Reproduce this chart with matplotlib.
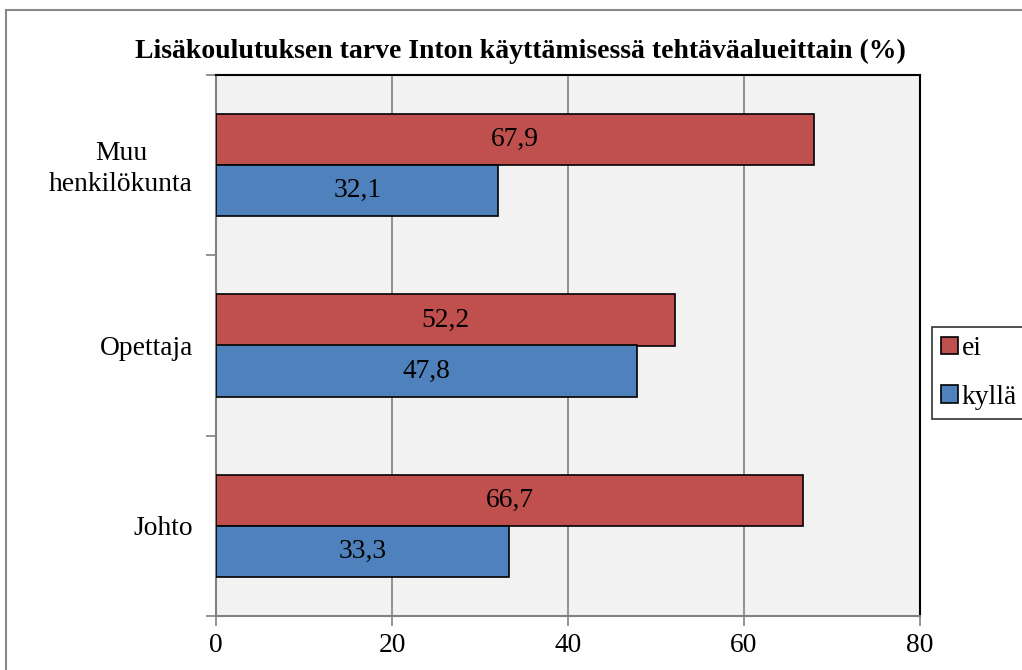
import matplotlib
matplotlib.use("Agg")
import matplotlib.pyplot as plt
from matplotlib.patches import Rectangle
import matplotlib.transforms as mtransforms
import numpy as np

plt.rcParams['font.family'] = ['Liberation Serif', 'DejaVu Serif']

categories = ["Johto", "Opettaja", "Muu\nhenkilökunta"]
ei = [66.7, 52.2, 67.9]
kylla = [33.3, 47.8, 32.1]
value_labels_ei = ["66,7", "52,2", "67,9"]
value_labels_kylla = ["33,3", "47,8", "32,1"]
xticks = [0, 20, 40, 60, 80]

W, H = 1022, 670
fig = plt.figure(figsize=(W / 100, H / 100), dpi=100)
fig.patch.set_facecolor("white")

# outer chart border
fig.add_artist(Rectangle((6 / W, -0.1), 1.2, (H - 10) / H + 0.1, transform=fig.transFigure,
                         fill=False, edgecolor="#888888", linewidth=1.5))

left, right, top, bottom = 216, 920, 75, 616
ax = fig.add_axes([left / W, 1 - bottom / H, (right - left) / W, (bottom - top) / H])
ax.set_facecolor("#F2F2F2")

FS = 19.8
y = np.arange(len(categories))
h = 0.283
red = "#C0504D"
blue = "#4F81BD"
ax.barh(y + h / 2, ei, height=h, color=red, edgecolor="black", linewidth=1.2, label="ei", zorder=3)
ax.barh(y - h / 2, kylla, height=h, color=blue, edgecolor="black", linewidth=1.2, label="kyllä", zorder=3)

for i in range(len(categories)):
    ax.text(ei[i] / 2, y[i] + h / 2, value_labels_ei[i], ha="center", va="center", fontsize=FS, zorder=4)
    ax.text(kylla[i] / 2, y[i] - h / 2, value_labels_kylla[i], ha="center", va="center", fontsize=FS, zorder=4)

ax.set_xlim(0, 80)
ax.set_ylim(-0.5, len(categories) - 0.5)
ax.set_xticks(xticks)
ax.set_xticklabels([str(t) for t in xticks], fontsize=FS)
ax.set_yticks(y)
ax.set_yticklabels(categories, fontsize=FS, multialignment="center", linespacing=1.3)
ax.set_yticks(np.arange(-0.5, len(categories)), minor=True)
ax.tick_params(axis="y", which="major", length=0, pad=16.5)
ax.tick_params(axis="y", which="minor", length=7, color="#808080", width=1.2, direction="out")
ax.tick_params(axis="x", which="major", length=7, color="#808080", width=1.2, direction="out", pad=5)

# nudge the two-line label slightly upward
lab = ax.get_yticklabels()[-1]
lab.set_transform(lab.get_transform() + mtransforms.ScaledTranslation(0, 2 / 100, fig.dpi_scale_trans))

ax.grid(axis="x", color="#808080", linewidth=1.2, zorder=0)
ax.set_axisbelow(True)

for s in ["left", "bottom"]:
    ax.spines[s].set_color("#808080")
    ax.spines[s].set_linewidth(1.5)
for s in ["top", "right"]:
    ax.spines[s].set_color("black")
    ax.spines[s].set_linewidth(1.5)

fig.text(0.5 * (133 + 908) / W, 1 - 51 / H, "Lisäkoulutuksen tarve Inton käyttämisessä tehtäväalueittain (%)",
         ha="center", va="center", fontsize=20, fontweight="bold")

leg = fig.legend(loc="upper left", bbox_to_anchor=(932 / W, 1 - 327 / H), fontsize=FS,
                 frameon=True, fancybox=False, edgecolor="black", handlelength=0.6, handleheight=0.6,
                 handletextpad=0.15, labelspacing=0.85, borderpad=0.34, borderaxespad=0)
leg.get_frame().set_linewidth(1.2)

fig.savefig("out.png", dpi=100)
